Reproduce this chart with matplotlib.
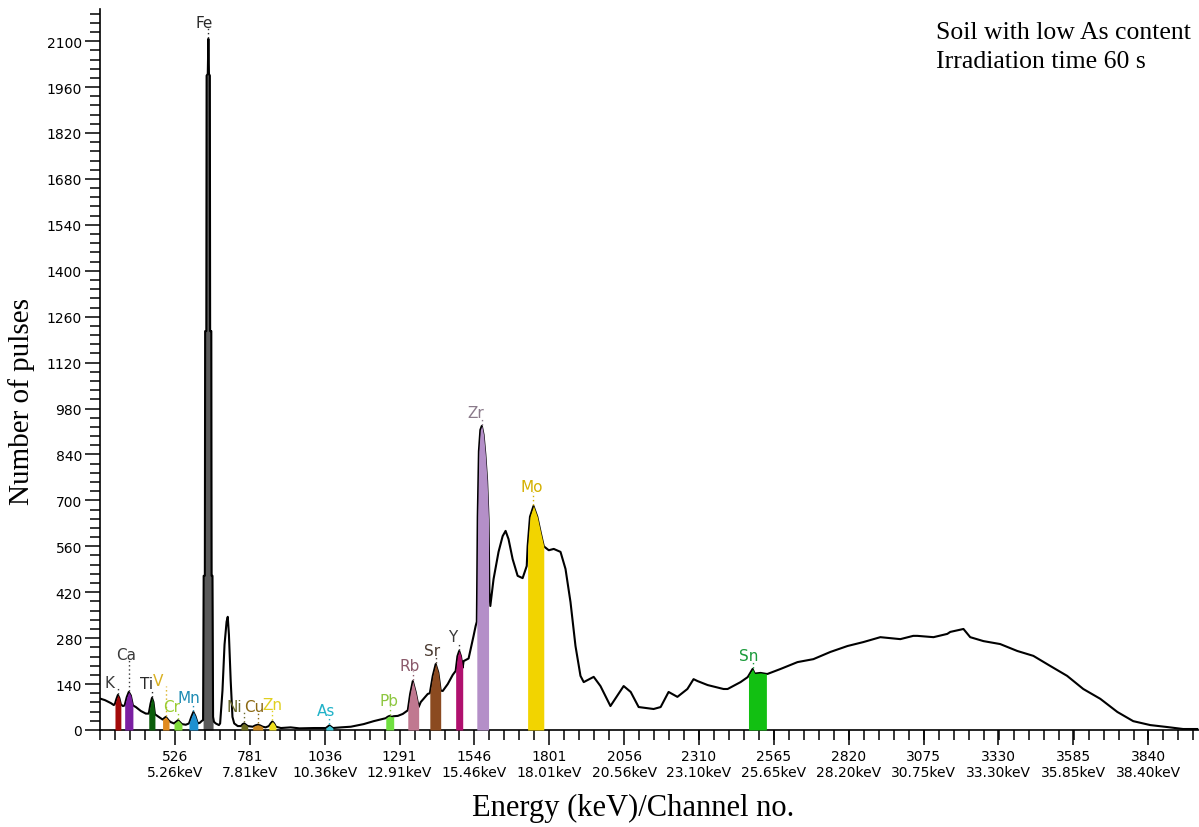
import matplotlib
matplotlib.use("Agg")
import matplotlib.pyplot as plt
import numpy as np

# ---------------- spectrum: (channel, counts) ----------------
spectrum = [
    (274, 95), (288, 91), (308, 82), (318, 76), (322, 80), (327, 95), (332, 107), (337, 97),
    (342, 78), (349, 73), (355, 75), (362, 100), (369, 116), (376, 105), (383, 75),
    (393, 70), (410, 58), (427, 50), (437, 50), (443, 80), (448, 98), (453, 85), (458, 48),
    (468, 42), (484, 32), (495, 40), (506, 28), (512, 24), (523, 20), (537, 30),
    (550, 18), (563, 16), (574, 20), (582, 40), (589, 55), (596, 42), (604, 20), (611, 22),
    (618, 28), (622, 30), (624, 470), (628, 470), (629, 1216), (633, 1216), (634, 1995),
    (638, 2000), (640, 2107), (642, 2000), (645, 1995), (646, 1216), (650, 1216),
    (651, 470), (654, 470), (656, 40), (659, 25), (665, 20),
    (676, 15), (680, 20), (688, 120), (695, 260), (702, 330), (706, 345), (710, 290), (716, 150),
    (722, 40), (728, 20), (740, 12), (751, 12), (757, 18), (762, 20), (768, 16), (774, 12),
    (791, 10), (800, 14), (808, 16), (816, 14), (825, 10), (835, 8), (846, 12),
    (852, 20), (858, 26), (864, 20), (870, 10), (887, 6), (920, 8), (950, 5), (1000, 6),
    (1040, 6), (1046, 10), (1052, 14), (1058, 10), (1064, 6), (1091, 8),
    (1125, 10), (1169, 18), (1203, 27), (1234, 34), (1244, 36), (1250, 40), (1257, 43),
    (1264, 40), (1271, 42), (1285, 43), (1302, 49), (1319, 60), (1327, 110),
    (1336, 149), (1346, 115), (1356, 70), (1363, 85), (1387, 110), (1394, 112), (1404, 165),
    (1414, 201), (1423, 175), (1431, 120), (1438, 119), (1455, 140), (1472, 168),
    (1482, 180), (1488, 225), (1494, 241), (1500, 225), (1506, 190), (1509, 210), (1526, 218),
    (1543, 287), (1550, 317), (1554, 330), (1557, 650), (1561, 850), (1566, 915),
    (1571, 927), (1577, 900), (1583, 840), (1589, 760), (1594, 640), (1597, 420), (1600, 378),
    (1611, 460), (1628, 543), (1642, 591), (1652, 607), (1662, 582), (1676, 521),
    (1693, 470), (1710, 463), (1724, 500), (1727, 560), (1735, 650), (1747, 683), (1760, 650),
    (1772, 600), (1782, 560), (1799, 548), (1816, 552), (1839, 543), (1856, 491),
    (1873, 390), (1890, 256), (1907, 165), (1918, 146), (1952, 162), (1975, 134), (2009, 73),
    (2054, 134), (2078, 116), (2105, 70), (2156, 64), (2180, 70), (2207, 116),
    (2237, 101), (2271, 125), (2292, 155), (2306, 149), (2340, 137), (2394, 125), (2408, 125),
    (2452, 146), (2476, 161), (2479, 165), (2493, 186), (2500, 172), (2520, 174), (2540, 171),
    (2544, 171), (2588, 186), (2646, 207), (2700, 216), (2758, 238), (2816, 256), (2870, 268),
    (2928, 283), (2996, 277), (3040, 287), (3054, 287), (3109, 283), (3156, 293), (3166, 299),
    (3211, 308), (3234, 283), (3279, 271), (3336, 262), (3394, 241), (3449, 226), (3507, 195),
    (3564, 165), (3619, 125), (3677, 95), (3735, 55), (3789, 27), (3847, 15), (3905, 9),
    (3959, 3), (4007, 3),
]
channels = [c for c, _ in spectrum]
counts = [v for _, v in spectrum]

peak_names = ["K", "Ca", "Ti", "V", "Cr", "Mn", "Fe", "Ni", "Cu", "Zn", "As",
              "Pb", "Rb", "Sr", "Y", "Zr", "Mo", "Sn"]
peak_lo = [322, 355, 437, 484, 523, 574, 622, 751, 791, 846, 1040,
           1244, 1319, 1394, 1482, 1554, 1727, 2479]
peak_hi = [342, 383, 458, 506, 550, 604, 656, 774, 825, 870, 1064,
           1271, 1356, 1431, 1506, 1594, 1782, 2540]
peak_fill = ["#a30a0a", "#7b1fa2", "#0b5e0b", "#e08a1e", "#7fdc3a", "#1e90d0",
             "#5a5a5a", "#6b6b1f", "#c8861e", "#f0e020", "#40c8d8", "#70e040",
             "#c07890", "#8b4a20", "#b0106e", "#b48fc8", "#f2d400", "#12c012"]
label_ch = [302, 359, 431, 470, 516, 574, 625, 728, 795, 858, 1040,
            1254, 1326, 1400, 1472, 1550, 1741, 2479]
label_base = [131, 216, 128, 137, 58, 85, 2143, 58, 58, 64, 46,
              76, 183, 229, 271, 954, 729, 213]
label_colors = ["#3a3a3a", "#3a3a3a", "#2a2a2a", "#d9b020", "#9acd32", "#1e8cb4",
                "#2a2a2a", "#6b6b2f", "#8b6914", "#e0d020", "#20b2c8", "#8dc63f",
                "#8b5a6b", "#4a3a30", "#3a3a3a", "#8a7a8a", "#d4b000", "#1a9a3a"]

x_major = [526, 781, 1036, 1291, 1546, 1801, 2056, 2310, 2565, 2820, 3075, 3330, 3585, 3840]
x_labels = ["526\n5.26keV", "781\n7.81keV", "1036\n10.36keV", "1291\n12.91keV",
            "1546\n15.46keV", "1801\n18.01keV", "2056\n20.56keV", "2310\n23.10keV",
            "2565\n25.65keV", "2820\n28.20keV", "3075\n30.75keV", "3330\n33.30keV",
            "3585\n35.85keV", "3840\n38.40keV"]
y_major = list(range(0, 2101, 140))

# ---------------- figure ----------------
W, H = 1199, 828
fig = plt.figure(figsize=(W / 100, H / 100), dpi=100)
ax = fig.add_axes([100 / W, 97 / H, 1099 / W, 721 / H])
ax.set_xlim(271, 4013)
ax.set_ylim(0, 2198)

ch = np.array(channels, dtype=float)
ct = np.array(counts, dtype=float)

ax.plot(ch, ct, color="black", lw=1.5, zorder=3)

for name, lo, hi, col in zip(peak_names, peak_lo, peak_hi, peak_fill):
    m = (ch >= lo) & (ch <= hi)
    z = 2 if name == "Fe" else 4
    ax.fill_between(ch[m], 0, ct[m], color=col, lw=0, zorder=z)

for name, lo, hi, lx, lb, lc in zip(peak_names, peak_lo, peak_hi, label_ch,
                                    label_base, label_colors):
    m = (ch >= lo) & (ch <= hi)
    i = np.argmax(ct[m])
    pc, pt = ch[m][i], ct[m][i]
    if lb > pt:
        ax.plot([pc, pc], [pt + 4, lb - 4], ls=(0, (1, 2)), color=lc, lw=1.0, zorder=5)
    ax.text(lx, lb, name, color=lc, fontsize=11, ha="center", va="baseline",
            family="DejaVu Sans", zorder=6)

# axes styling
for s in ["top", "right"]:
    ax.spines[s].set_visible(False)
for s in ["left", "bottom"]:
    ax.spines[s].set_linewidth(1.2)

ax.set_xticks(x_major)
ax.set_xticklabels(x_labels, fontsize=10, family="DejaVu Sans", linespacing=1.1)
ax.set_xticks(np.arange(271, 4014, 51), minor=True)
ax.set_yticks(y_major)
ax.set_yticklabels([str(v) for v in y_major], fontsize=10, family="DejaVu Sans")
ax.set_yticks(np.arange(0, 2198, 28), minor=True)
ax.tick_params(which="major", direction="out", length=11, width=1.1, pad=2)
ax.tick_params(which="minor", direction="out", length=7, width=1.1)
ax.tick_params(axis="x", which="major", pad=3)

fig.text(22 / W, 1 - 402 / H, "Number of pulses", rotation=90, ha="center", va="center",
         family="Liberation Serif", fontsize=21)
fig.text(633 / W, 1 - 808 / H, "Energy (keV)/Channel no.", ha="center", va="center",
         family="Liberation Serif", fontsize=22)
fig.text(936 / W, 1 - 33 / H, "Soil with low As content", ha="left", va="center",
         family="Liberation Serif", fontsize=18.5)
fig.text(936 / W, 1 - 62 / H, "Irradiation time 60 s", ha="left", va="center",
         family="Liberation Serif", fontsize=18.5)

fig.savefig("out.png", dpi=100)
